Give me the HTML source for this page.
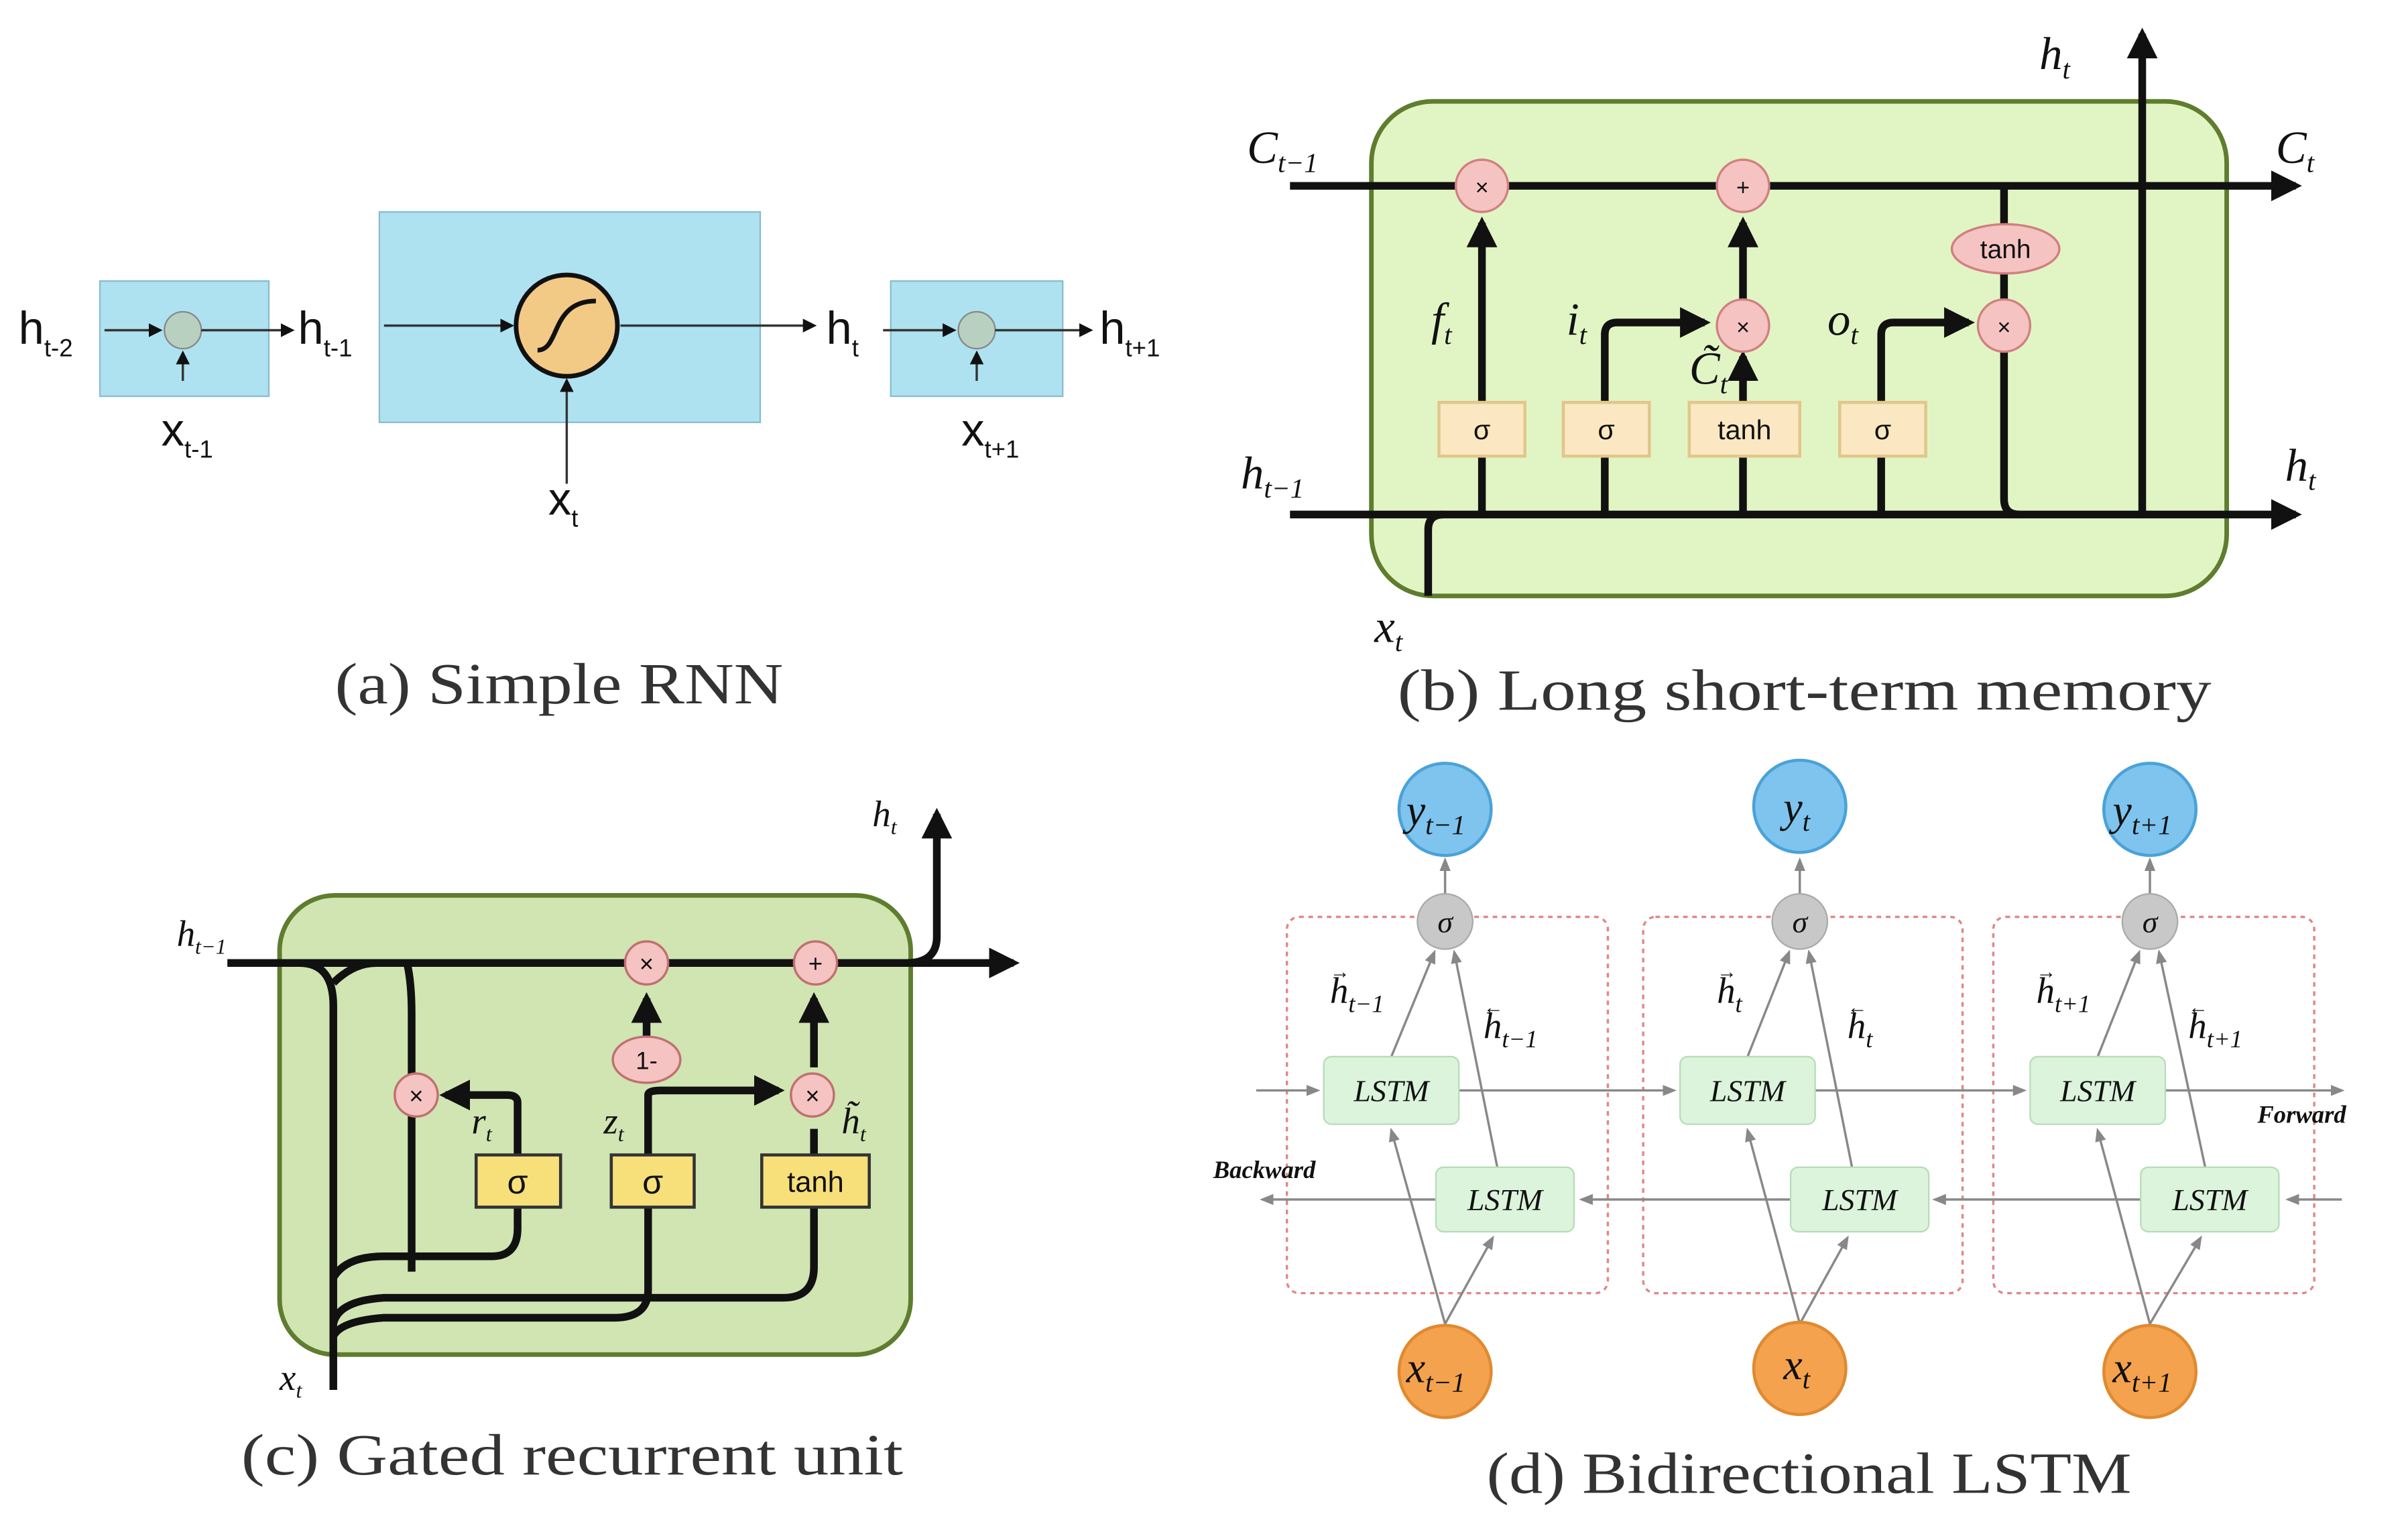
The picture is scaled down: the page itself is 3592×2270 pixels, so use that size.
<!DOCTYPE html>
<html><head><meta charset="utf-8"><style>
html,body{margin:0;padding:0;background:#fff;}
svg{display:block;}
.cap{font-family:"Liberation Serif",serif;font-size:38px;fill:#333;}
.lb{font-family:"Liberation Sans",sans-serif;fill:#111;}
.it{font-family:"Liberation Serif",serif;font-style:italic;fill:#111;}
</style></head><body>
<svg width="3592" height="2270" viewBox="0 0 1568 991" xmlns="http://www.w3.org/2000/svg">
<defs>
<marker id="a" viewBox="0 0 10 10" refX="8" refY="5" markerWidth="4" markerHeight="4" orient="auto"><path d="M0,0L10,5L0,10z" fill="#111"/></marker>
<marker id="s" viewBox="0 0 10 10" refX="8" refY="5" markerWidth="6" markerHeight="6" orient="auto"><path d="M0,0L10,5L0,10z" fill="#111"/></marker>
<marker id="g" viewBox="0 0 10 10" refX="8" refY="5" markerWidth="6" markerHeight="6" orient="auto"><path d="M0,1L10,5L0,9z" fill="#888"/></marker>
</defs>
<rect width="1568" height="991" fill="#fff"/>

<!-- (a) -->
<rect x="65" y="183" width="110" height="75" fill="#aee2f0" stroke="#8bbccc"/>
<rect x="247" y="138" width="248" height="137" fill="#aee2f0" stroke="#8bbccc"/>
<rect x="580" y="183" width="112" height="75" fill="#aee2f0" stroke="#8bbccc"/>
<circle cx="119" cy="215" r="12" fill="#b8d0c0" stroke="#888"/>
<circle cx="636" cy="215" r="12" fill="#b8d0c0" stroke="#888"/>
<circle cx="369" cy="212" r="33" fill="#f3c986" stroke="#111" stroke-width="3"/>
<path d="M350,228 C365,228 358,196 388,196" fill="none" stroke="#111" stroke-width="3"/>
<g stroke="#333" stroke-width="1.5" fill="none">
<line x1="68" y1="215" x2="104" y2="215" marker-end="url(#s)"/>
<line x1="131" y1="215" x2="190" y2="215" marker-end="url(#s)"/>
<line x1="119" y1="248" x2="119" y2="230" marker-end="url(#s)"/>
<line x1="250" y1="212" x2="333" y2="212" marker-end="url(#s)"/>
<line x1="404" y1="212" x2="530" y2="212" marker-end="url(#s)"/>
<line x1="369" y1="315" x2="369" y2="248" marker-end="url(#s)"/>
<line x1="575" y1="215" x2="621" y2="215" marker-end="url(#s)"/>
<line x1="648" y1="215" x2="710" y2="215" marker-end="url(#s)"/>
<line x1="636" y1="248" x2="636" y2="230" marker-end="url(#s)"/>
</g>
<g class="lb" font-size="30">
<text x="12" y="224">h<tspan font-size="16" dy="8">t-2</tspan></text>
<text x="194" y="224">h<tspan font-size="16" dy="8">t-1</tspan></text>
<text x="538" y="224">h<tspan font-size="16" dy="8">t</tspan></text>
<text x="716" y="224">h<tspan font-size="16" dy="8">t+1</tspan></text>
<text x="105" y="290">x<tspan font-size="16" dy="8">t-1</tspan></text>
<text x="357" y="335">x<tspan font-size="16" dy="8">t</tspan></text>
<text x="626" y="290">x<tspan font-size="16" dy="8">t+1</tspan></text>
</g>
<text class="cap" x="218" y="458" textLength="292" lengthAdjust="spacingAndGlyphs">(a) Simple RNN</text>

<!-- (b) -->
<rect x="893" y="66" width="557" height="322" rx="40" fill="#e1f5c4" stroke="#5e7d2e" stroke-width="3"/>
<g stroke="#111" stroke-width="5" fill="none">
<line x1="840" y1="121" x2="1495" y2="121" marker-end="url(#a)"/>
<line x1="840" y1="335" x2="1495" y2="335" marker-end="url(#a)"/>
<path d="M930,388 L930,345 Q930,335 940,335"/>
<line x1="965" y1="335" x2="965" y2="145" marker-end="url(#a)"/>
<path d="M1045,335 L1045,218 Q1045,210 1053,210 L1110,210" marker-end="url(#a)"/>
<line x1="1135" y1="335" x2="1135" y2="232" marker-end="url(#a)"/>
<line x1="1135" y1="195" x2="1135" y2="145" marker-end="url(#a)"/>
<path d="M1225,335 L1225,218 Q1225,210 1233,210 L1282,210" marker-end="url(#a)"/>
<path d="M1305,121 L1305,325 Q1305,335 1315,335"/>
<line x1="1395" y1="335" x2="1395" y2="22" marker-end="url(#a)"/>
</g>
<g fill="#f6c3c3" stroke="#d08080" stroke-width="1.5">
<circle cx="965" cy="121" r="17"/><circle cx="1135" cy="121" r="17"/>
<circle cx="1135" cy="212" r="17"/><circle cx="1305" cy="212" r="17"/>
<ellipse cx="1306" cy="162" rx="35" ry="16"/>
</g>
<g class="lb" font-size="15" text-anchor="middle">
<text x="965" y="127">×</text><text x="1135" y="127">+</text><text x="1135" y="218">×</text><text x="1305" y="218">×</text><text x="1306" y="168" font-size="17">tanh</text>
</g>
<g fill="#fbe8c2" stroke="#e2c68c" stroke-width="2">
<rect x="937" y="262" width="56" height="35"/><rect x="1018" y="262" width="56" height="35"/>
<rect x="1100" y="262" width="72" height="35"/><rect x="1198" y="262" width="56" height="35"/>
</g>
<g class="lb" font-size="18" text-anchor="middle">
<text x="965" y="286">σ</text><text x="1046" y="286">σ</text><text x="1136" y="286">tanh</text><text x="1226" y="286">σ</text>
</g>
<g class="it" font-size="30">
<text x="812" y="106">C<tspan font-size="18" dy="6">t−1</tspan></text>
<text x="1482" y="106">C<tspan font-size="18" dy="6">t</tspan></text>
<text x="1328" y="45">h<tspan font-size="18" dy="6">t</tspan></text>
<text x="1488" y="313">h<tspan font-size="18" dy="6">t</tspan></text>
<text x="808" y="318">h<tspan font-size="18" dy="6">t−1</tspan></text>
<text x="895" y="418">x<tspan font-size="18" dy="6">t</tspan></text>
<text x="932" y="218">f<tspan font-size="18" dy="6">t</tspan></text>
<text x="1020" y="218">i<tspan font-size="18" dy="6">t</tspan></text>
<text x="1100" y="250">C̃<tspan font-size="18" dy="6">t</tspan></text>
<text x="1190" y="218">o<tspan font-size="18" dy="6">t</tspan></text>
</g>
<text class="cap" x="910" y="462" textLength="530" lengthAdjust="spacingAndGlyphs">(b) Long short-term memory</text>

<!-- (c) -->
<rect x="182" y="583" width="411" height="299" rx="36" fill="#d0e5b2" stroke="#5e7d2e" stroke-width="3"/>
<g stroke="#111" stroke-width="5" fill="none">
<line x1="148" y1="627" x2="660" y2="627" marker-end="url(#a)"/>
<path d="M590,627 Q610,627 610,610 L610,530" marker-end="url(#a)"/>
<path d="M217,905 L217,655 Q217,627 195,627"/>
<path d="M217,640 Q230,627 245,627"/>
<path d="M265,627 Q268,640 268,660 L268,828"/>
<path d="M217,862 Q220,847 250,845 L510,845 Q530,845 530,825 L530,786"/>
<path d="M217,832 Q225,818 250,818 L320,818 Q337,818 337,800 L337,786"/>
<path d="M337,752 L337,718 Q337,713 330,713 L290,713" marker-end="url(#a)"/>
<path d="M217,870 Q222,860 250,858 L400,858 Q422,858 422,840 L422,786"/>
<path d="M422,752 L422,713 Q422,710 430,710 L507,710" marker-end="url(#a)"/>
<line x1="421" y1="705" x2="421" y2="650" marker-end="url(#a)"/>
<line x1="530" y1="752" x2="530" y2="735"/>
<line x1="530" y1="695" x2="530" y2="650" marker-end="url(#a)"/>
</g>
<g fill="#f6c3c3" stroke="#c07070" stroke-width="1.5">
<circle cx="421" cy="627" r="14"/><circle cx="531" cy="627" r="14"/>
<circle cx="271" cy="713" r="14"/><circle cx="529" cy="713" r="14"/>
<ellipse cx="421" cy="690" rx="22" ry="15"/>
</g>
<g class="lb" font-size="16" text-anchor="middle">
<text x="421" y="633">×</text><text x="531" y="633">+</text><text x="271" y="719">×</text><text x="529" y="719">×</text><text x="421" y="696">1-</text>
</g>
<g fill="#f7e07a" stroke="#333" stroke-width="2">
<rect x="310" y="752" width="55" height="34"/><rect x="398" y="752" width="54" height="34"/><rect x="496" y="752" width="70" height="34"/>
</g>
<g class="lb" font-size="22" text-anchor="middle">
<text x="337" y="777">σ</text><text x="425" y="777">σ</text><text x="531" y="776" font-size="19">tanh</text>
</g>
<g class="it" font-size="24" fill="#444">
<text x="115" y="616">h<tspan font-size="14" dy="5">t−1</tspan></text>
<text x="568" y="538">h<tspan font-size="14" dy="5">t</tspan></text>
<text x="182" y="905">x<tspan font-size="14" dy="5">t</tspan></text>
<text x="307" y="738">r<tspan font-size="14" dy="5">t</tspan></text>
<text x="393" y="738">z<tspan font-size="14" dy="5">t</tspan></text>
<text x="548" y="738">h̃<tspan font-size="14" dy="5">t</tspan></text>
</g>
<text class="cap" x="157" y="960" textLength="431" lengthAdjust="spacingAndGlyphs">(c) Gated recurrent unit</text>

<!-- (d) -->
<g fill="none" stroke="#e08888" stroke-width="1.5" stroke-dasharray="3,3">
<rect x="838" y="597" width="209" height="245" rx="8"/>
<rect x="1070" y="597" width="208" height="245" rx="8"/>
<rect x="1298" y="597" width="209" height="245" rx="8"/>
</g>
<g stroke="#888" stroke-width="1.5" fill="none">
<line x1="818" y1="710" x2="858" y2="710" marker-end="url(#g)"/>
<line x1="950" y1="710" x2="1090" y2="710" marker-end="url(#g)"/>
<line x1="1182" y1="710" x2="1318" y2="710" marker-end="url(#g)"/>
<line x1="1410" y1="710" x2="1525" y2="710" marker-end="url(#g)"/>
<line x1="1525" y1="781" x2="1490" y2="781" marker-end="url(#g)"/>
<line x1="1394" y1="781" x2="1260" y2="781" marker-end="url(#g)"/>
<line x1="1166" y1="781" x2="1030" y2="781" marker-end="url(#g)"/>
<line x1="935" y1="781" x2="822" y2="781" marker-end="url(#g)"/>
</g>
<g stroke="#888" stroke-width="1.5" fill="none">
<line x1="941" y1="862" x2="906" y2="736" marker-end="url(#g)"/>
<line x1="941" y1="862" x2="972" y2="806" marker-end="url(#g)"/>
<line x1="906" y1="688" x2="934" y2="620" marker-end="url(#g)"/>
<line x1="975" y1="760" x2="947" y2="620" marker-end="url(#g)"/>
<line x1="941" y1="582" x2="941" y2="560" marker-end="url(#g)"/>
<line x1="1172" y1="862" x2="1138" y2="736" marker-end="url(#g)"/>
<line x1="1172" y1="862" x2="1203" y2="806" marker-end="url(#g)"/>
<line x1="1138" y1="688" x2="1165" y2="620" marker-end="url(#g)"/>
<line x1="1206" y1="760" x2="1178" y2="620" marker-end="url(#g)"/>
<line x1="1172" y1="582" x2="1172" y2="560" marker-end="url(#g)"/>
<line x1="1400" y1="862" x2="1366" y2="736" marker-end="url(#g)"/>
<line x1="1400" y1="862" x2="1433" y2="806" marker-end="url(#g)"/>
<line x1="1366" y1="688" x2="1393" y2="620" marker-end="url(#g)"/>
<line x1="1436" y1="760" x2="1406" y2="620" marker-end="url(#g)"/>
<line x1="1400" y1="582" x2="1400" y2="560" marker-end="url(#g)"/>
</g>
<g fill="#dcf3dc" stroke="#b8dcb8" stroke-width="1">
<rect x="862" y="688" width="88" height="44" rx="5"/><rect x="1094" y="688" width="88" height="44" rx="5"/><rect x="1322" y="688" width="88" height="44" rx="5"/>
<rect x="935" y="760" width="90" height="42" rx="5"/><rect x="1166" y="760" width="90" height="42" rx="5"/><rect x="1394" y="760" width="90" height="42" rx="5"/>
</g>
<g class="it" font-size="20" fill="#333" text-anchor="middle">
<text x="906" y="717">LSTM</text><text x="1138" y="717">LSTM</text><text x="1366" y="717">LSTM</text>
<text x="980" y="788">LSTM</text><text x="1211" y="788">LSTM</text><text x="1439" y="788">LSTM</text>
</g>
<g fill="#c8c8c8" stroke="#aaa"><circle cx="941" cy="600" r="18"/><circle cx="1172" cy="600" r="18"/><circle cx="1400" cy="600" r="18"/></g>
<g class="it" font-size="20" fill="#444" text-anchor="middle"><text x="941" y="607">σ</text><text x="1172" y="607">σ</text><text x="1400" y="607">σ</text></g>
<g fill="#7ec4ee" stroke="#4aa2d8" stroke-width="2"><circle cx="941" cy="527" r="30"/><circle cx="1172" cy="525" r="30"/><circle cx="1400" cy="527" r="30"/></g>
<g fill="#f4a24e" stroke="#e08a30" stroke-width="2"><circle cx="941" cy="893" r="30"/><circle cx="1172" cy="891" r="30"/><circle cx="1400" cy="893" r="30"/></g>
<g class="it" font-size="28" fill="#333" text-anchor="middle">
<text x="935" y="537">y<tspan font-size="18" dy="6">t−1</tspan></text>
<text x="1170" y="535">y<tspan font-size="18" dy="6">t</tspan></text>
<text x="1395" y="537">y<tspan font-size="18" dy="6">t+1</tspan></text>
<text x="935" y="900">x<tspan font-size="18" dy="6">t−1</tspan></text>
<text x="1170" y="898">x<tspan font-size="18" dy="6">t</tspan></text>
<text x="1395" y="900">x<tspan font-size="18" dy="6">t+1</tspan></text>
</g>
<g class="it" font-size="24" fill="#333">
<text x="866" y="653">h<tspan font-size="16" dy="6">t−1</tspan></text>
<text x="966" y="676">h<tspan font-size="16" dy="6">t−1</tspan></text>
<text x="1118" y="653">h<tspan font-size="16" dy="6">t</tspan></text>
<text x="1203" y="676">h<tspan font-size="16" dy="6">t</tspan></text>
<text x="1326" y="653">h<tspan font-size="16" dy="6">t+1</tspan></text>
<text x="1425" y="676">h<tspan font-size="16" dy="6">t+1</tspan></text>
</g>
<g class="lb" font-size="13" fill="#333">
<text x="866" y="637">→</text><text x="966" y="660">←</text>
<text x="1118" y="637">→</text><text x="1203" y="660">←</text>
<text x="1326" y="637">→</text><text x="1425" y="660">←</text>
</g>
<g class="it" font-size="16" font-weight="bold" fill="#333">
<text x="790" y="767">Backward</text><text x="1470" y="731">Forward</text>
</g>
<text class="cap" x="968" y="972" textLength="420" lengthAdjust="spacingAndGlyphs">(d) Bidirectional LSTM</text>
</svg>
</body></html>
